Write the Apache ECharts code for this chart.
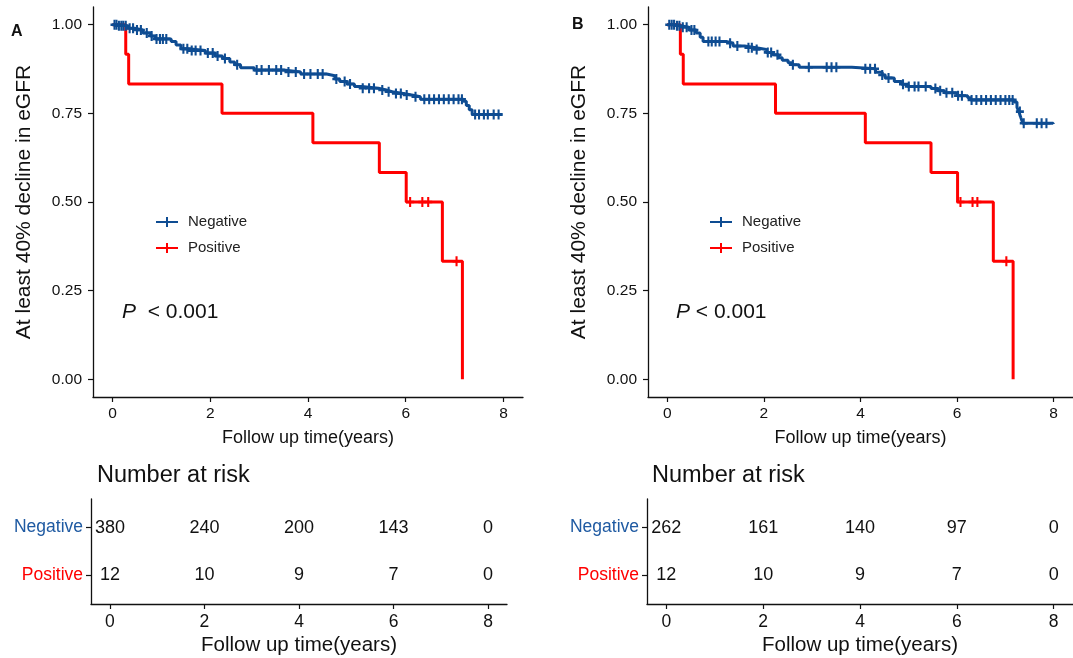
<!DOCTYPE html>
<html><head><meta charset="utf-8">
<script src="https://cdn.jsdelivr.net/npm/echarts@6/dist/echarts.min.js"></script>
<style>html,body{margin:0;padding:0;background:#fff}#c{width:1073px;height:658px}</style>
</head><body><div id="c"></div>
<script>
// ---------- data ----------
var groups = ['Negative', 'Positive'];
var xTicks = [0, 2, 4, 6, 8];
var yTicks = [0, 0.25, 0.5, 0.75, 1];

// Panel A: Kaplan-Meier steps [time, survival]
var negA = [[0,1],[0.12,0.997],[0.3,0.99],[0.45,0.985],[0.62,0.977],[0.78,0.968],[0.88,0.96],[1.2,0.953],[1.3,0.943],[1.4,0.932],[1.55,0.927],[1.9,0.92],[2.1,0.912],[2.25,0.905],[2.4,0.895],[2.5,0.887],[2.62,0.879],[2.9,0.872],[3.5,0.867],[3.85,0.861],[4.38,0.856],[4.55,0.847],[4.65,0.84],[4.8,0.833],[4.95,0.826],[5.1,0.821],[5.44,0.816],[5.6,0.811],[5.72,0.806],[5.95,0.802],[6.12,0.797],[6.3,0.79],[7.18,0.784],[7.24,0.772],[7.3,0.76],[7.36,0.747],[7.98,0.747]];
var posA = [[0,1],[0.27,0.917],[0.33,0.833],[2.24,0.75],[4.1,0.667],[5.46,0.583],[6.01,0.5],[6.75,0.333],[7.16,0],[7.16,0]];
var negCensA = [0.04,0.08,0.13,0.18,0.22,0.27,0.35,0.42,0.5,0.58,0.7,0.8,0.9,0.97,1.03,1.1,1.45,1.53,1.62,1.7,1.8,1.95,2.05,2.15,2.3,2.55,2.95,3.05,3.2,3.35,3.45,3.6,3.75,3.92,4.05,4.2,4.3,4.58,4.75,4.86,5.12,5.25,5.35,5.52,5.65,5.8,5.9,6.02,6.2,6.38,6.48,6.58,6.68,6.78,6.88,6.98,7.08,7.15,7.42,7.5,7.6,7.68,7.8,7.9];
var posCensA = [6.09, 6.34, 6.46, 7.04];
var riskNegA = [380, 240, 200, 143, 0];
var riskPosA = [12, 10, 9, 7, 0];

// Panel B
var negB = [[0,1],[0.15,0.997],[0.27,0.993],[0.45,0.985],[0.6,0.977],[0.68,0.965],[0.74,0.953],[1.22,0.948],[1.36,0.94],[1.6,0.935],[1.84,0.93],[2.05,0.922],[2.18,0.915],[2.3,0.907],[2.38,0.9],[2.5,0.893],[2.59,0.887],[2.73,0.88],[3.82,0.876],[4.31,0.866],[4.45,0.858],[4.51,0.85],[4.7,0.84],[4.85,0.832],[4.98,0.826],[5.46,0.82],[5.6,0.814],[5.74,0.808],[6.0,0.8],[6.22,0.794],[6.28,0.788],[7.18,0.782],[7.24,0.767],[7.28,0.755],[7.32,0.738],[7.36,0.722],[7.99,0.72]];
var posB = [[0,1],[0.27,0.917],[0.33,0.833],[2.24,0.75],[4.1,0.667],[5.46,0.583],[6.01,0.5],[6.75,0.333],[7.16,0],[7.16,0]];
var negCensB = [0.04,0.09,0.14,0.2,0.25,0.32,0.4,0.5,0.56,0.85,0.92,1.0,1.08,1.3,1.45,1.68,1.75,1.85,2.08,2.15,2.28,2.6,2.93,3.3,3.4,3.5,4.1,4.2,4.3,4.45,4.58,4.88,5.0,5.12,5.2,5.35,5.55,5.65,5.78,5.9,6.02,6.1,6.3,6.4,6.5,6.6,6.7,6.8,6.9,7.0,7.08,7.15,7.3,7.38,7.65,7.75,7.85];
var posCensB = [6.07, 6.32, 6.42, 7.02];
var riskNegB = [262, 161, 140, 97, 0];
var riskPosB = [12, 10, 9, 7, 0];

// ---------- styling ----------
var BLUE = '#0E4C92', RED = '#FF0000', LBLUE = '#1f5aa2';
var FONT = '"Liberation Sans", Arial, sans-serif';
var TXT = '#111';
var PLUS = 'path://M-1.3,-5L1.3,-5L1.3,-1.3L5,-1.3L5,1.3L1.3,1.3L1.3,5L-1.3,5L-1.3,1.3L-5,1.3L-5,-1.3L-1.3,-1.3Z';
var LEGICON = 'path://M0,4L22,4L22,6L0,6Z M10,0L12,0L12,10L10,10Z';

function stepLookup(steps, t) {
  var v = steps[0][1];
  for (var i = 0; i < steps.length; i++) { if (steps[i][0] <= t) v = steps[i][1]; }
  return v;
}
function censorPts(steps, times) { return times.map(function (t) { return [t, stepLookup(steps, t)]; }); }

function axisLineStyle() { return { show: true, onZero: false, lineStyle: { color: '#111', width: 1.3 } }; }
function tickStyle(vals) { return { show: true, length: 5, customValues: vals, lineStyle: { color: '#111', width: 1.2 } }; }

var grids = [
  { left: 93, top: 7, width: 430, height: 390 },   // A plot
  { left: 91, top: 499, width: 416, height: 105 }, // A table
  { left: 648, top: 7, width: 429, height: 390 },  // B plot
  { left: 647, top: 499, width: 431, height: 105 } // B table
];

function plotX(gi) {
  return { type: 'value', gridIndex: gi, min: -0.4, max: 8.4, splitLine: { show: false },
    axisLine: axisLineStyle(), axisTick: tickStyle(xTicks),
    axisLabel: { customValues: xTicks, color: TXT, fontSize: 15.5, fontFamily: FONT, margin: 9 },
    name: 'Follow up time(years)', nameLocation: 'middle', nameGap: 32,
    nameTextStyle: { color: TXT, fontSize: 18, fontFamily: FONT } };
}
function plotY(gi) {
  return { type: 'value', gridIndex: gi, min: -0.05, max: 1.05, splitLine: { show: false },
    axisLine: axisLineStyle(), axisTick: tickStyle(yTicks),
    axisLabel: { customValues: yTicks, color: TXT, fontSize: 15.5, fontFamily: FONT, margin: 11,
      formatter: function (v) { return v.toFixed(2); } },
    name: 'At least 40% decline in eGFR', nameLocation: 'middle', nameGap: 58,
    nameTextStyle: { color: TXT, fontSize: 21, fontFamily: FONT } };
}
function tabX(gi) {
  return { type: 'value', gridIndex: gi, min: -0.4, max: 8.4, splitLine: { show: false },
    axisLine: axisLineStyle(), axisTick: tickStyle(xTicks),
    axisLabel: { customValues: xTicks, color: TXT, fontSize: 17.5, fontFamily: FONT, margin: 9 },
    name: 'Follow up time(years)', nameLocation: 'middle', nameGap: 31,
    nameTextStyle: { color: TXT, fontSize: 20.5, fontFamily: FONT } };
}
var rowPos = [0, 1];
function tabY(gi) {
  return { type: 'value', gridIndex: gi, min: -0.6, max: 1.6, inverse: true, splitLine: { show: false },
    axisLine: axisLineStyle(), axisTick: tickStyle(rowPos),
    axisLabel: { customValues: rowPos, fontSize: 17.5, fontFamily: FONT, margin: 8,
      formatter: function (v) { return groups[Math.round(v)]; },
      color: function (v) { return Math.round(v) === 0 ? LBLUE : RED; } } };
}

function kmSeries(name, steps, color, xi) {
  return { type: 'line', name: name, xAxisIndex: xi, yAxisIndex: xi, data: steps, step: 'end',
    symbol: 'none', lineStyle: { color: color, width: 3 }, itemStyle: { color: color }, z: 3 };
}
function censSeries(name, pts, color, xi) {
  return { type: 'scatter', name: name, xAxisIndex: xi, yAxisIndex: xi, data: pts,
    symbol: PLUS, symbolSize: [8, 10], itemStyle: { color: color, opacity: 1 }, z: 4 };
}
function riskSeries(counts, row, xi) {
  return { type: 'scatter', xAxisIndex: xi, yAxisIndex: xi,
    data: counts.map(function (c, i) { return [xTicks[i], rowPos[row], c]; }),
    symbolSize: 1, itemStyle: { color: 'rgba(0,0,0,0)', opacity: 1 },
    label: { show: true, position: 'inside', color: TXT, fontSize: 18, fontFamily: FONT,
      formatter: function (p) { return String(p.value[2]); } } };
}

var series = [
  kmSeries('Negative', negA, BLUE, 0), kmSeries('Positive', posA, RED, 0),
  censSeries('Negative', censorPts(negA, negCensA), BLUE, 0), censSeries('Positive', censorPts(posA, posCensA), RED, 0),
  riskSeries(riskNegA, 0, 1), riskSeries(riskPosA, 1, 1),
  kmSeries('Negative', negB, BLUE, 2), kmSeries('Positive', posB, RED, 2),
  censSeries('Negative', censorPts(negB, negCensB), BLUE, 2), censSeries('Positive', censorPts(posB, posCensB), RED, 2),
  riskSeries(riskNegB, 0, 3), riskSeries(riskPosB, 1, 3)
];

function legendAt(left) {
  return { left: left, top: 209, orient: 'vertical', itemWidth: 22, itemHeight: 10, itemGap: 10,
    icon: LEGICON, selectedMode: false, data: groups,
    textStyle: { color: '#222', fontSize: 15, fontFamily: FONT, lineHeight: 16, padding: [0, 0, 0, 5] } };
}

function pTitle(left, txt) {
  return { text: txt, left: left, top: 297, textStyle: { color: '#111', fontSize: 21, fontWeight: 'normal', fontFamily: FONT,
    rich: { i: { fontStyle: 'italic', fontSize: 21, fontFamily: FONT, color: '#111' } } } };
}

var option = {
  animation: false,
  backgroundColor: '#fff',
  grid: grids,
  xAxis: [plotX(0), tabX(1), plotX(2), tabX(3)],
  yAxis: [plotY(0), tabY(1), plotY(2), tabY(3)],
  legend: [legendAt(151), legendAt(705)],
  title: [
    { text: 'Number at risk', left: 92, top: 459, textStyle: { color: '#111', fontSize: 23.5, fontWeight: 'normal', fontFamily: FONT } },
    { text: 'Number at risk', left: 647, top: 459, textStyle: { color: '#111', fontSize: 23.5, fontWeight: 'normal', fontFamily: FONT } },
    { text: 'A', left: 6, top: 19, textStyle: { color: '#111', fontSize: 16, fontWeight: 'bold', fontFamily: FONT } },
    { text: 'B', left: 567, top: 12, textStyle: { color: '#111', fontSize: 16, fontWeight: 'bold', fontFamily: FONT } },
    pTitle(117, '{i|P}  < 0.001'),
    pTitle(671, '{i|P} < 0.001')
  ],
  series: series
};
var chart = echarts.init(document.getElementById('c'), null, { renderer: 'canvas' });
chart.setOption(option);
</script></body></html>
